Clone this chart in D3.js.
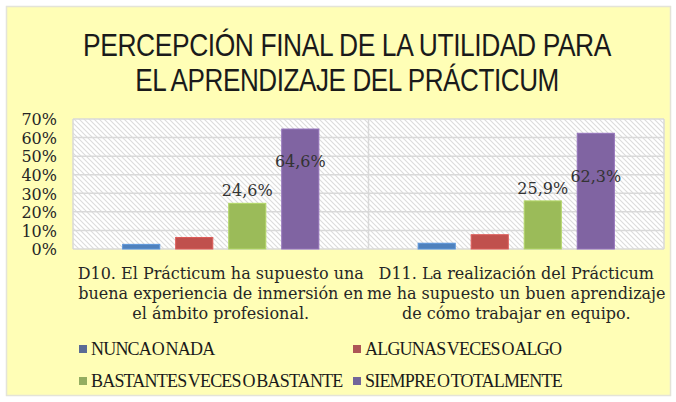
<!DOCTYPE html>
<html><head><meta charset="utf-8">
<script src="https://cdn.jsdelivr.net/npm/d3@7/dist/d3.min.js"></script>
<style>
html,body{margin:0;padding:0;background:#fff;}
svg{display:block;}
</style></head>
<body>
<svg id="chart" width="676" height="402"></svg>
<script>
// ---- data ----
const titleLines = ["PERCEPCIÓN FINAL DE LA UTILIDAD PARA", "EL APRENDIZAJE DEL PRÁCTICUM"];
const categories = ["D10", "D11"];
const categoryLines = [
  ["D10. El Prácticum ha supuesto una", "buena experiencia de inmersión en", "el ámbito profesional."],
  ["D11. La realización del Prácticum", "me ha supuesto un buen aprendizaje", "de cómo trabajar en equipo."]
];
const seriesNames = ["NUNCA O NADA", "ALGUNAS VECES O ALGO", "BASTANTES VECES O BASTANTE", "SIEMPRE O TOTALMENTE"];
const nuncaValues = [0.025, 0.031];
const algunasValues = [0.062, 0.077];
const bastantesValues = [0.246, 0.259];
const siempreValues = [0.646, 0.623];
const yTickValues = [0, 0.1, 0.2, 0.3, 0.4, 0.5, 0.6, 0.7];
const labeledSeries = ["BASTANTES VECES O BASTANTE", "SIEMPRE O TOTALMENTE"];

// ---- style/layout ----
const barColors = ["#4F81BD", "#C0504D", "#9BBB59", "#8064A2"];
const legendColors = ["#5a6b95", "#ad5656", "#93ad61", "#72669a"];
const seriesValues = [nuncaValues, algunasValues, bastantesValues, siempreValues];
const purpleLabelDrop = [38, 49];
const titleWidths = [528, 424];

const svg = d3.select("#chart");
const W = 676, H = 402;
const plot = {left: 73, right: 664, top: 119, bottom: 249};

// background
svg.append("rect").attr("x", 0).attr("y", 0).attr("width", W).attr("height", H).attr("fill", "#ffffff");
svg.append("rect").attr("x", 6.5).attr("y", 6.5).attr("width", 664).attr("height", 389)
  .attr("fill", "#FFFEB6").attr("stroke", "#e4e4d8").attr("stroke-width", 1.5);

// title (horizontally condensed via scale transform)
svg.append("g").selectAll("g").data(titleLines).join("g")
  .each(function(d, i) {
    const g = d3.select(this);
    const t = g.append("text")
      .attr("x", 0).attr("y", 0)
      .attr("text-anchor", "middle")
      .attr("font-family", "'Liberation Sans', Arial, sans-serif")
      .attr("font-size", 31)
      .attr("letter-spacing", -0.5)
      .attr("fill", "#1a1a1a")
      .text(d);
    const natural = t.node().getComputedTextLength();
    const sx = titleWidths[i] / natural;
    g.attr("transform", `translate(347,${56 + i * 35}) scale(${sx},1)`);
  });

// hatch pattern
const defs = svg.append("defs");
const pat = defs.append("pattern").attr("id", "hatch").attr("patternUnits", "userSpaceOnUse")
  .attr("width", 5).attr("height", 5);
pat.append("rect").attr("width", 5).attr("height", 5).attr("fill", "#ffffff");
pat.append("path").attr("d", "M0,0 L5,5 M-1,4 L1,6 M4,-1 L6,1")
  .attr("stroke", "#dcdcdc").attr("stroke-width", 1.1);

// scales
const x0 = d3.scaleBand().domain(categories).range([plot.left, plot.right]).padding(0);
const bw = x0.bandwidth();
const x1 = d3.scaleBand().domain(seriesNames).range([bw * 0.168, bw * 0.832]).paddingInner(0.3).paddingOuter(0);
const y = d3.scaleLinear().domain([0, 0.7]).range([plot.bottom, plot.top]);

// plot background
svg.append("rect").attr("x", plot.left).attr("y", plot.top)
  .attr("width", plot.right - plot.left).attr("height", plot.bottom - plot.top)
  .attr("fill", "url(#hatch)");

// gridlines
svg.append("g").selectAll("line").data(yTickValues).join("line")
  .attr("x1", plot.left).attr("x2", plot.right)
  .attr("y1", d => y(d)).attr("y2", d => y(d))
  .attr("stroke", "#d9d9d9").attr("stroke-width", 1.5);
// vertical separators
const seps = [plot.left, ...categories.map(c => x0(c) + bw)];
svg.append("g").selectAll("line").data(seps).join("line")
  .attr("x1", d => d).attr("x2", d => d).attr("y1", plot.top).attr("y2", plot.bottom)
  .attr("stroke", "#d9d9d9").attr("stroke-width", 1.5);

// y axis
const yAxis = d3.axisLeft(y).tickValues(yTickValues).tickFormat(d3.format(".0%")).tickSize(0).tickPadding(0);
const ya = svg.append("g").attr("transform", `translate(57,0)`).call(yAxis);
ya.select(".domain").remove();
ya.selectAll("text").attr("font-family", "'DejaVu Serif', serif").attr("font-size", 16)
  .attr("fill", "#262626").attr("dy", "0.36em");

// bars
const fmt = d3.formatLocale({decimal: ",", thousands: ".", grouping: [3], currency: ["", "€"]}).format(".1%");
categories.forEach((c, ci) => {
  const g = svg.append("g").attr("transform", `translate(${x0(c)},0)`);
  const rows = seriesNames.map((s, si) => ({s, si, v: seriesValues[si][ci]}));
  g.selectAll("rect").data(rows).join("rect")
    .attr("x", d => x1(d.s)).attr("width", x1.bandwidth())
    .attr("y", d => y(d.v)).attr("height", d => y(0) - y(d.v))
    .attr("fill", d => barColors[d.si])
    .attr("stroke", d => d3.color(barColors[d.si]).brighter(0.4)).attr("stroke-width", 1);
  g.selectAll("text").data(rows.filter(d => labeledSeries.includes(d.s))).join("text")
    .attr("x", d => x1(d.s) + x1.bandwidth() / 2)
    .attr("y", d => d.si === 3 ? y(d.v) + purpleLabelDrop[ci] : y(d.v) - 7)
    .attr("text-anchor", "middle")
    .attr("font-family", "'DejaVu Serif', serif").attr("font-size", 16)
    .attr("fill", "#333333")
    .text(d => fmt(d.v));
});

// category labels
categories.forEach((c, ci) => {
  svg.append("g").selectAll("text").data(categoryLines[ci]).join("text")
    .attr("x", x0(c) + bw / 2).attr("y", (d, i) => 279 + i * 20)
    .attr("text-anchor", "middle")
    .attr("font-family", "'DejaVu Serif', serif").attr("font-size", 16)
    .attr("fill", "#262626")
    .text(d => d);
});

// legend
const legPos = [[79, 349], [353, 349], [79, 381], [353, 381]];
const lg = svg.append("g");
seriesNames.forEach((s, i) => {
  const [lx, ly] = legPos[i];
  lg.append("rect").attr("x", lx).attr("y", ly - 4).attr("width", 8).attr("height", 8).attr("fill", legendColors[i]);
  lg.append("text").attr("x", lx + 12).attr("y", ly + 6)
    .attr("font-family", "'Liberation Serif', serif").attr("font-size", 18)
    .attr("letter-spacing", -0.8).attr("word-spacing", -2)
    .attr("fill", "#1a1a1a").text(s);
});
</script>
</body></html>
